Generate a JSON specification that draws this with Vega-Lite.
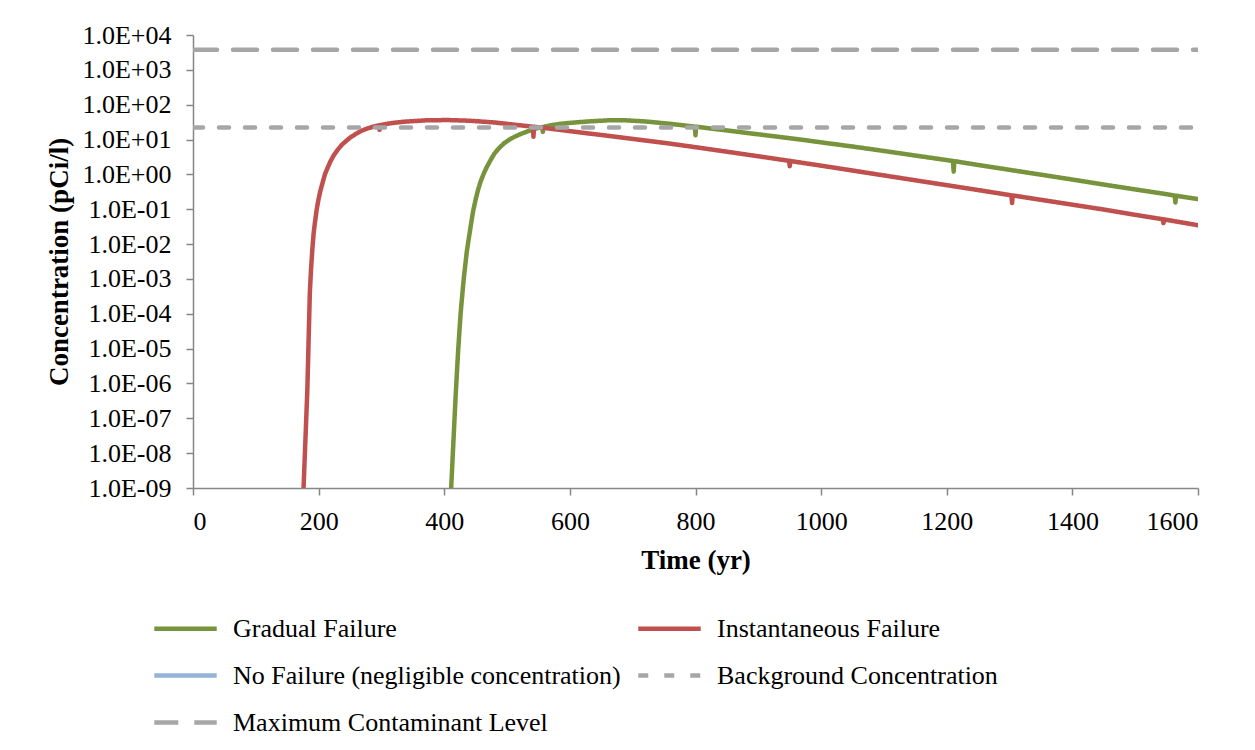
{
  "$schema": "https://vega.github.io/schema/vega-lite/v6.json",
  "width": 1005,
  "height": 453,
  "autosize": {"type": "none"},
  "padding": {"left": 193, "top": 35, "right": 57, "bottom": 262},
  "background": "white",
  "config": {
    "view": {"stroke": null},
    "font": "Liberation Serif",
    "axis": {"labelFont": "Liberation Serif", "titleFont": "Liberation Serif", "labelColor": "black", "titleColor": "black", "domainColor": "#868686", "tickColor": "#868686", "domainWidth": 1.5, "tickWidth": 1.5, "tickSize": 7, "grid": false},
    "legend": {"labelFont": "Liberation Serif", "labelColor": "black"}
  },
  "data": {"values": [
    {"s": "Gradual Failure", "t": 411, "c": 1e-9},
    {"s": "Gradual Failure", "t": 414, "c": 1.3e-8},
    {"s": "Gradual Failure", "t": 418, "c": 4e-7},
    {"s": "Gradual Failure", "t": 422, "c": 8e-6},
    {"s": "Gradual Failure", "t": 426, "c": 1e-4},
    {"s": "Gradual Failure", "t": 431, "c": 1e-3},
    {"s": "Gradual Failure", "t": 436, "c": 6.3e-3},
    {"s": "Gradual Failure", "t": 442, "c": 0.032},
    {"s": "Gradual Failure", "t": 446, "c": 0.089},
    {"s": "Gradual Failure", "t": 450, "c": 0.19},
    {"s": "Gradual Failure", "t": 454, "c": 0.37},
    {"s": "Gradual Failure", "t": 458, "c": 0.63},
    {"s": "Gradual Failure", "t": 463, "c": 1.07},
    {"s": "Gradual Failure", "t": 468, "c": 1.66},
    {"s": "Gradual Failure", "t": 474, "c": 2.63},
    {"s": "Gradual Failure", "t": 480, "c": 3.98},
    {"s": "Gradual Failure", "t": 487, "c": 5.62},
    {"s": "Gradual Failure", "t": 495, "c": 7.76},
    {"s": "Gradual Failure", "t": 503, "c": 9.77},
    {"s": "Gradual Failure", "t": 512, "c": 12.0},
    {"s": "Gradual Failure", "t": 522, "c": 14.5},
    {"s": "Gradual Failure", "t": 532, "c": 17.0},
    {"s": "Gradual Failure", "t": 545, "c": 20.4},
    {"s": "Gradual Failure", "t": 556, "c": 22.9},
    {"s": "Gradual Failure", "t": 557, "c": 16.6},
    {"s": "Gradual Failure", "t": 558, "c": 23.0},
    {"s": "Gradual Failure", "t": 570, "c": 25.7},
    {"s": "Gradual Failure", "t": 585, "c": 28.2},
    {"s": "Gradual Failure", "t": 601, "c": 30.2},
    {"s": "Gradual Failure", "t": 630, "c": 33.1},
    {"s": "Gradual Failure", "t": 660, "c": 35.5},
    {"s": "Gradual Failure", "t": 690, "c": 35.5},
    {"s": "Gradual Failure", "t": 720, "c": 33.1},
    {"s": "Gradual Failure", "t": 760, "c": 28.2},
    {"s": "Gradual Failure", "t": 799, "c": 23.4},
    {"s": "Gradual Failure", "t": 800, "c": 13.2},
    {"s": "Gradual Failure", "t": 801, "c": 23.3},
    {"s": "Gradual Failure", "t": 850, "c": 18.2},
    {"s": "Gradual Failure", "t": 900, "c": 14.1},
    {"s": "Gradual Failure", "t": 967, "c": 10.0},
    {"s": "Gradual Failure", "t": 1000, "c": 8.3},
    {"s": "Gradual Failure", "t": 1050, "c": 6.3},
    {"s": "Gradual Failure", "t": 1100, "c": 4.7},
    {"s": "Gradual Failure", "t": 1150, "c": 3.47},
    {"s": "Gradual Failure", "t": 1200, "c": 2.57},
    {"s": "Gradual Failure", "t": 1210, "c": 2.42},
    {"s": "Gradual Failure", "t": 1211, "c": 1.2},
    {"s": "Gradual Failure", "t": 1212, "c": 2.4},
    {"s": "Gradual Failure", "t": 1250, "c": 1.86},
    {"s": "Gradual Failure", "t": 1300, "c": 1.35},
    {"s": "Gradual Failure", "t": 1350, "c": 0.98},
    {"s": "Gradual Failure", "t": 1400, "c": 0.71},
    {"s": "Gradual Failure", "t": 1450, "c": 0.51},
    {"s": "Gradual Failure", "t": 1500, "c": 0.37},
    {"s": "Gradual Failure", "t": 1550, "c": 0.27},
    {"s": "Gradual Failure", "t": 1563, "c": 0.246},
    {"s": "Gradual Failure", "t": 1564, "c": 0.155},
    {"s": "Gradual Failure", "t": 1565, "c": 0.244},
    {"s": "Gradual Failure", "t": 1600, "c": 0.195},
    {"s": "Instantaneous Failure", "t": 176, "c": 1e-9},
    {"s": "Instantaneous Failure", "t": 179, "c": 2.5e-8},
    {"s": "Instantaneous Failure", "t": 182, "c": 6.3e-7},
    {"s": "Instantaneous Failure", "t": 184, "c": 1.6e-5},
    {"s": "Instantaneous Failure", "t": 186, "c": 4e-4},
    {"s": "Instantaneous Failure", "t": 188, "c": 2e-3},
    {"s": "Instantaneous Failure", "t": 190, "c": 7e-3},
    {"s": "Instantaneous Failure", "t": 192, "c": 0.02},
    {"s": "Instantaneous Failure", "t": 194, "c": 0.04},
    {"s": "Instantaneous Failure", "t": 197, "c": 0.1},
    {"s": "Instantaneous Failure", "t": 200, "c": 0.2},
    {"s": "Instantaneous Failure", "t": 203, "c": 0.35},
    {"s": "Instantaneous Failure", "t": 206, "c": 0.55},
    {"s": "Instantaneous Failure", "t": 210, "c": 1.0},
    {"s": "Instantaneous Failure", "t": 214, "c": 1.5},
    {"s": "Instantaneous Failure", "t": 219, "c": 2.4},
    {"s": "Instantaneous Failure", "t": 224, "c": 3.5},
    {"s": "Instantaneous Failure", "t": 230, "c": 5.0},
    {"s": "Instantaneous Failure", "t": 237, "c": 7.1},
    {"s": "Instantaneous Failure", "t": 245, "c": 9.5},
    {"s": "Instantaneous Failure", "t": 252, "c": 12.0},
    {"s": "Instantaneous Failure", "t": 260, "c": 14.8},
    {"s": "Instantaneous Failure", "t": 267, "c": 17.4},
    {"s": "Instantaneous Failure", "t": 275, "c": 20.0},
    {"s": "Instantaneous Failure", "t": 285, "c": 22.9},
    {"s": "Instantaneous Failure", "t": 296, "c": 25.5},
    {"s": "Instantaneous Failure", "t": 297, "c": 19.0},
    {"s": "Instantaneous Failure", "t": 298, "c": 25.8},
    {"s": "Instantaneous Failure", "t": 315, "c": 29.5},
    {"s": "Instantaneous Failure", "t": 335, "c": 32.4},
    {"s": "Instantaneous Failure", "t": 370, "c": 35.5},
    {"s": "Instantaneous Failure", "t": 405, "c": 36.3},
    {"s": "Instantaneous Failure", "t": 440, "c": 34.7},
    {"s": "Instantaneous Failure", "t": 480, "c": 30.9},
    {"s": "Instantaneous Failure", "t": 520, "c": 25.7},
    {"s": "Instantaneous Failure", "t": 541, "c": 23.4},
    {"s": "Instantaneous Failure", "t": 542, "c": 12.0},
    {"s": "Instantaneous Failure", "t": 543, "c": 23.2},
    {"s": "Instantaneous Failure", "t": 560, "c": 21.4},
    {"s": "Instantaneous Failure", "t": 600, "c": 17.4},
    {"s": "Instantaneous Failure", "t": 650, "c": 13.5},
    {"s": "Instantaneous Failure", "t": 680, "c": 11.6},
    {"s": "Instantaneous Failure", "t": 750, "c": 8.04},
    {"s": "Instantaneous Failure", "t": 800, "c": 6.03},
    {"s": "Instantaneous Failure", "t": 850, "c": 4.47},
    {"s": "Instantaneous Failure", "t": 900, "c": 3.31},
    {"s": "Instantaneous Failure", "t": 949, "c": 2.45},
    {"s": "Instantaneous Failure", "t": 950, "c": 1.72},
    {"s": "Instantaneous Failure", "t": 951, "c": 2.42},
    {"s": "Instantaneous Failure", "t": 1000, "c": 1.78},
    {"s": "Instantaneous Failure", "t": 1050, "c": 1.29},
    {"s": "Instantaneous Failure", "t": 1100, "c": 0.933},
    {"s": "Instantaneous Failure", "t": 1150, "c": 0.676},
    {"s": "Instantaneous Failure", "t": 1200, "c": 0.49},
    {"s": "Instantaneous Failure", "t": 1250, "c": 0.355},
    {"s": "Instantaneous Failure", "t": 1303, "c": 0.25},
    {"s": "Instantaneous Failure", "t": 1304, "c": 0.15},
    {"s": "Instantaneous Failure", "t": 1305, "c": 0.249},
    {"s": "Instantaneous Failure", "t": 1350, "c": 0.186},
    {"s": "Instantaneous Failure", "t": 1400, "c": 0.135},
    {"s": "Instantaneous Failure", "t": 1450, "c": 0.098},
    {"s": "Instantaneous Failure", "t": 1500, "c": 0.069},
    {"s": "Instantaneous Failure", "t": 1544, "c": 0.0515},
    {"s": "Instantaneous Failure", "t": 1545, "c": 0.04},
    {"s": "Instantaneous Failure", "t": 1546, "c": 0.051},
    {"s": "Instantaneous Failure", "t": 1600, "c": 0.0347},
    {"s": "Background Concentration", "t": 0, "c": 22},
    {"s": "Background Concentration", "t": 1600, "c": 22},
    {"s": "Maximum Contaminant Level", "t": 0, "c": 3800},
    {"s": "Maximum Contaminant Level", "t": 1600, "c": 3800}
  ]},
  "mark": {"type": "line", "clip": true, "strokeCap": "round", "strokeJoin": "round"},
  "encoding": {
    "x": {"field": "t", "type": "quantitative",
      "scale": {"domain": [0, 1600], "nice": false},
      "axis": {"title": "Time (yr)", "format": "d", "values": [0, 200, 400, 600, 800, 1000, 1200, 1400, 1600], "labelFont": "Liberation Serif", "titleFont": "Liberation Serif", "labelFontSize": 26, "titleFontSize": 27, "titleFontWeight": "bold", "labelPadding": 13, "titlePadding": 13}},
    "y": {"field": "c", "type": "quantitative",
      "scale": {"type": "log", "domain": [1e-9, 10000], "nice": false},
      "axis": {"title": "Concentration (pCi/l)", "values": [1e-9, 1e-8, 1e-7, 1e-6, 1e-5, 1e-4, 1e-3, 1e-2, 1e-1, 1, 10, 100, 1000, 10000],
        "labelExpr": "'1.0E' + (round(log(datum.value)/LN10) < 0 ? '-' : '+') + (abs(round(log(datum.value)/LN10)) < 10 ? '0' : '') + abs(round(log(datum.value)/LN10))",
        "labelFont": "Liberation Serif", "titleFont": "Liberation Serif", "labelFontSize": 26, "titleFontSize": 27, "titleFontWeight": "bold", "labelPadding": 15, "titlePadding": 8}},
    "color": {"field": "s", "type": "nominal",
      "scale": {"domain": ["Gradual Failure", "No Failure (negligible concentration)", "Maximum Contaminant Level", "Instantaneous Failure", "Background Concentration"],
        "range": ["#77933C", "#95B3D7", "#A6A6A6", "#C0504D", "#A6A6A6"]},
      "legend": {"title": null, "orient": "none", "legendX": -41, "legendY": 560, "columns": 2, "symbolType": "stroke", "symbolSize": 3900, "labelFontSize": 26, "labelOffset": 14, "rowPadding": -28, "columnPadding": 8, "padding": 0, "labelLimit": 600}},
    "strokeDash": {"field": "s", "type": "nominal",
      "scale": {"domain": ["Gradual Failure", "No Failure (negligible concentration)", "Maximum Contaminant Level", "Instantaneous Failure", "Background Concentration"],
        "range": [[1, 0], [1, 0], [24, 16], [1, 0], [10, 16]]}},
    "strokeWidth": {"field": "s", "type": "nominal",
      "scale": {"domain": ["Gradual Failure", "No Failure (negligible concentration)", "Maximum Contaminant Level", "Instantaneous Failure", "Background Concentration"],
        "range": [4.5, 4.5, 3.5, 4.5, 3.5]}}
  }
}
